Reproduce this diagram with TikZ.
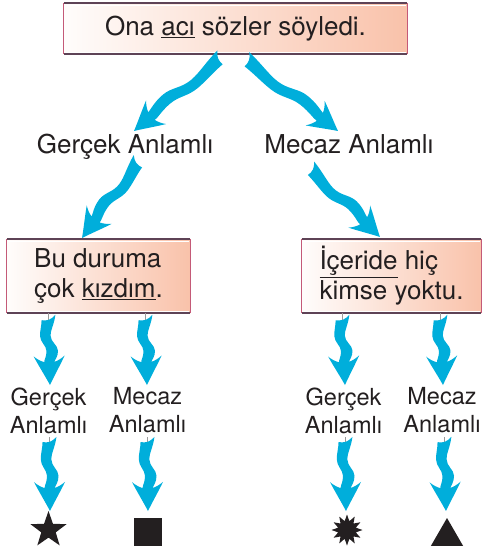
\documentclass[tikz,border=0pt]{standalone}
\usepackage{fontspec}
\setmainfont{TeX Gyre Heros}
\usetikzlibrary{shapes.geometric,calc}
\definecolor{arrowblue}{HTML}{00AEDB}
\definecolor{salmon}{HTML}{F9C2AA}
\definecolor{boxtop}{HTML}{5E4356}
\definecolor{boxside}{HTML}{C45A78}
\definecolor{ink}{HTML}{231F20}
\definecolor{stubgray}{HTML}{9A9A9A}
\newcommand\warrow[3][1]{%
  \pgfpointdiff{\pgfpointanchor{#2}{center}}{\pgfpointanchor{#3}{center}}%
  \pgfgetlastxy{\wdx}{\wdy}%
  \pgfmathsetmacro\wang{atan2(\wdy,\wdx)}%
  \pgfmathsetmacro\wlen{veclen(\wdx,\wdy)}%
  \pgfmathsetmacro\ws{\wlen-23}%
  \begin{scope}[shift={(#2)}, rotate=\wang, yscale=#1]
    \fill[arrowblue] (-3,7.5)
      .. controls (0.15*\ws,6) and (0.28*\ws,2) .. (0.4*\ws,2)
      .. controls (0.55*\ws,2) and (0.62*\ws,9) .. (0.75*\ws,9)
      .. controls (0.88*\ws,9) and (0.96*\ws,5.5) .. (\ws,5)
      .. controls (\ws-1,8.5) and (\ws-3,12) .. (\ws-6,15.5)
      .. controls (\ws+3,11) and (\wlen-8,4) .. (\wlen,0)
      .. controls (\wlen-8,-4) and (\ws+3,-11) .. (\ws-6,-15.5)
      .. controls (\ws-3,-12) and (\ws-1,-8.5) .. (\ws,-5)
      .. controls (0.96*\ws,-5.5) and (0.88*\ws,-2.5) .. (0.75*\ws,-2.5)
      .. controls (0.62*\ws,-2.5) and (0.55*\ws,-8.5) .. (0.4*\ws,-8.5)
      .. controls (0.28*\ws,-8.5) and (0.15*\ws,-6.5) .. (2,-6.5)
      .. controls (3,-1) and (2,3) .. cycle;
  \end{scope}}
\newcommand\boxedges[1]{%
  \draw[boxside, line width=1pt] (#1.north west) -- (#1.south west)
    (#1.north east) -- (#1.south east);
  \draw[boxtop, line width=2.2pt] (#1.north west) -- (#1.north east)
    (#1.south west) -- (#1.south east);
  \draw[white, line width=0.6pt] ([shift={(1,-2.3)}]#1.north west) -- ([shift={(-1,-2.3)}]#1.north east)
    ([shift={(1,2.3)}]#1.south west) -- ([shift={(-1,2.3)}]#1.south east);}
\begin{document}
\begin{tikzpicture}[x=1pt,y=1pt,
  sent/.style={left color=white!96!salmon, right color=salmon, minimum height=74,
    align=left, font=\fontsize{26}{30}\selectfont, text=ink, inner sep=0},
  biglbl/.style={font=\fontsize{26}{30}\selectfont, text=ink, anchor=base, inner sep=0},
  smalllbl/.style={font=\fontsize{23.5}{28}\selectfont, text=ink, align=center, inner sep=0},
  sym/.style={fill=ink, draw=none, inner sep=0},
  stubline/.style={stubgray, line width=0.7pt}]
\useasboundingbox (0,0) rectangle (483,-547);

% boxes
\node[sent, minimum width=343, minimum height=51] (top) at (235.5,-28.5) {Ona \underline{acı} sözler söyledi.};
\node[sent, minimum width=183] (b1) at (98.5,-276) {Bu duruma\\çok \underline{kızdım}.};
\node[sent, minimum width=179] (b2) at (391.5,-276) {\underline{İçeride} hiç\\kimse yoktu.};
\boxedges{top}\boxedges{b1}\boxedges{b2}

% labels
\node[biglbl] (g1) at (125,-153) {Gerçek Anlamlı};
\node[biglbl] (m1) at (349,-153) {Mecaz Anlamlı};
\node[smalllbl] (g2) at (48.5,-410.5) {Gerçek\\Anlamlı};
\node[smalllbl] (m2) at (147.5,-410.5) {Mecaz\\Anlamlı};
\node[smalllbl] (g3) at (343.5,-410.5) {Gerçek\\Anlamlı};
\node[smalllbl] (m3) at (442,-410.5) {Mecaz\\Anlamlı};

% symbols
\node[sym, star, star points=5, star point ratio=2.5, minimum size=38] (s1) at (48.5,-530) {};
\node[sym, rectangle, minimum size=28] (s2) at (148,-532) {};
\node[sym, star, star points=12, star point ratio=1.7, minimum size=31] (s3) at (347,-530) {};
\node[sym, regular polygon, regular polygon sides=3, minimum size=37] (s4) at (447,-536.5) {};

% arrow end points
\coordinate (a1s) at (220,-58);  \coordinate (a1e) at (134,-131);
\coordinate (a2s) at (247,-60);  \coordinate (a2e) at (338,-131);
\coordinate (a3s) at (138,-162); \coordinate (a3e) at (82,-238);
\coordinate (a4s) at (311,-169); \coordinate (a4e) at (380,-237);
\coordinate (v1s) at (48,-318);  \coordinate (v1e) at (50,-385);
\coordinate (v2s) at (145,-318); \coordinate (v2e) at (147,-385);
\coordinate (v3s) at (342,-318); \coordinate (v3e) at (345,-385);
\coordinate (v4s) at (440,-318); \coordinate (v4e) at (443,-385);
\coordinate (w1s) at (49,-440);  \coordinate (w1e) at (50,-511);
\coordinate (w2s) at (147,-440); \coordinate (w2e) at (148,-511);
\coordinate (w3s) at (345,-440); \coordinate (w3e) at (346,-511);
\coordinate (w4s) at (444,-440); \coordinate (w4e) at (446,-511);

% stubs
\foreach \c/\n in {v1s/b1, v2s/b1, v3s/b2, v4s/b2}
  \draw[stubline] (\n.south -| \c) -- ([yshift=-6]\c);
\foreach \c/\n in {w1s/g2, w2s/m2, w3s/g3, w4s/m3}
  \draw[stubline] ([yshift=3]\c) -- ([yshift=-8]\c);

% arrows
\warrow[-1]{a1s}{a1e}
\warrow{a2s}{a2e}
\warrow[-1]{a3s}{a3e}
\warrow{a4s}{a4e}
\warrow{v1s}{v1e}\warrow{v2s}{v2e}\warrow{v3s}{v3e}\warrow{v4s}{v4e}
\warrow{w1s}{w1e}\warrow{w2s}{w2e}\warrow{w3s}{w3e}\warrow{w4s}{w4e}
\end{tikzpicture}
\end{document}
